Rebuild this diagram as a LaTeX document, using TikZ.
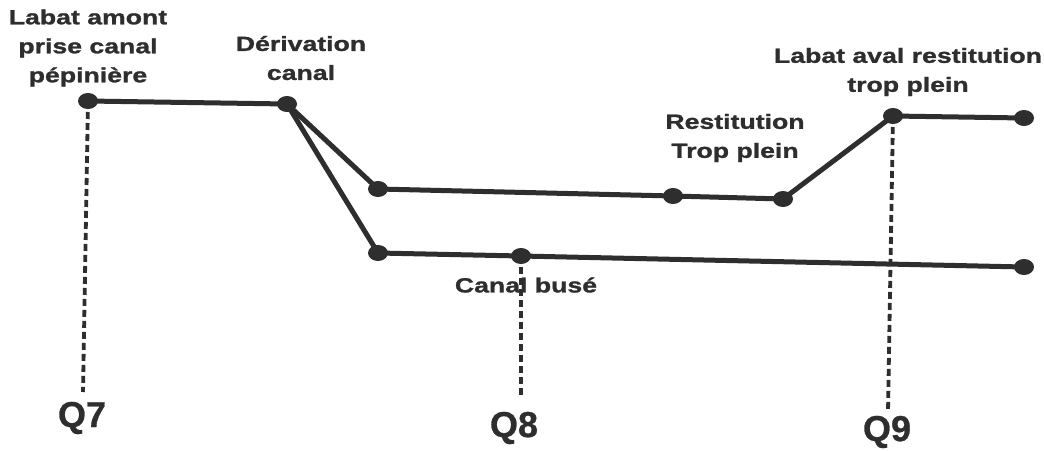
\documentclass[tikz,border=0pt]{standalone}
\usepackage{fontspec}
\usetikzlibrary{shapes.geometric}
\setmainfont{Liberation Sans}
\newfontfamily\widebold[FakeStretch=1.3,FakeBold=1.2]{Liberation Sans Bold}
\newfontfamily\plainbold[FakeBold=0.8]{Liberation Sans Bold}
\definecolor{ink}{HTML}{2E2E2E}
\begin{document}
\begin{tikzpicture}[x=1pt,y=-1pt,
  pt/.style={ellipse,fill=ink,inner sep=0pt,minimum width=20pt,minimum height=16pt},
  link/.style={draw=ink,line width=5pt,line cap=round,line join=round},
  drop/.style={draw=ink,line width=3.8pt,dash pattern=on 7pt off 4pt},
  lbl/.style={text=ink,align=center,font=\widebold\fontsize{20.5}{29}\selectfont},
  qlbl/.style={text=ink,font=\plainbold\fontsize{36}{40}\selectfont}]
\useasboundingbox[fill=white] (0,0) rectangle (1044,450);

% points of the profile
\node[pt] (amont) at (88,101) {};
\node[pt] (deriv) at (287,104) {};
\node[pt] (up1) at (378,189) {};
\node[pt] (up2) at (673,196) {};
\node[pt] (up3) at (783,199) {};
\node[pt] (aval) at (893,116) {};
\node[pt] (avalend) at (1024,118) {};
\node[pt] (low1) at (378,253) {};
\node[pt] (buse) at (521,256) {};
\node[pt] (lowend) at (1024,267) {};

% discharge marks
\coordinate (q7end) at (83,392);
\coordinate (q8end) at (521,395);
\coordinate (q9end) at (888,412);

% labels
\node[lbl] (tamont) at (88,48) {Labat amont\\prise canal\\pépinière};
\node[lbl] (tderiv) at (301,58) {Dérivation\\canal};
\node[lbl] (trest) at (735,138) {Restitution\\Trop plein};
\node[lbl] (taval) at (908,72) {Labat aval restitution\\trop plein};
\node[lbl] (tbuse) at (526,285) {Canal busé};
\node[qlbl] (q7) at (82,418) {Q7};
\node[qlbl] (q8) at (514,428) {Q8};
\node[qlbl] (q9) at (887,432) {Q9};

% channel lines
\draw[link] (amont.center) -- (deriv.center) -- (up1.center) -- (up2.center) -- (up3.center) -- (aval.center) -- (avalend.center);
\draw[link] (deriv.center) -- (low1.center) -- (buse.center) -- (lowend.center);

% dashed verticals
\draw[drop] (amont.center) -- (q7end);
\draw[drop] (buse.center) -- (q8end);
\draw[drop] (aval.center) -- (q9end);
\end{tikzpicture}
\end{document}
